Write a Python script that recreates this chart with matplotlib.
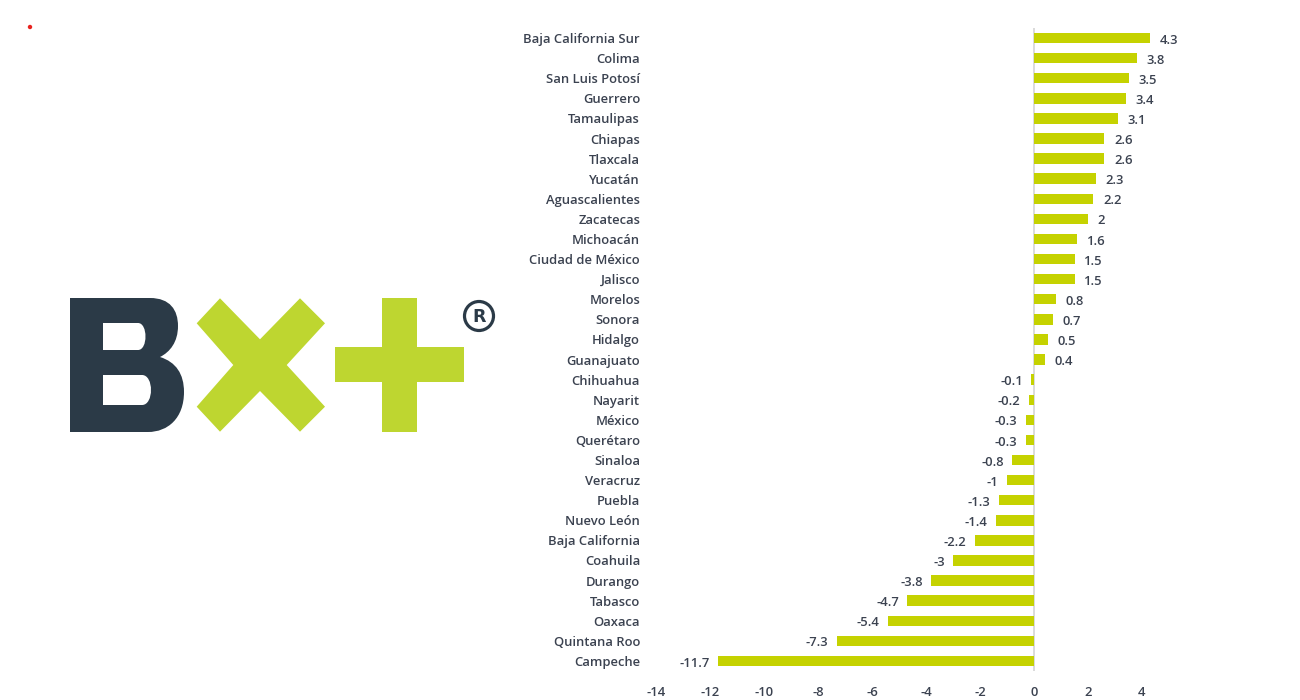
import matplotlib
matplotlib.use("Agg")
import matplotlib.pyplot as plt
from matplotlib.path import Path
from matplotlib.patches import PathPatch, Polygon, Rectangle, Circle

states = ["Baja California Sur", "Colima", "San Luis Potosí", "Guerrero", "Tamaulipas",
          "Chiapas", "Tlaxcala", "Yucatán", "Aguascalientes", "Zacatecas", "Michoacán",
          "Ciudad de México", "Jalisco", "Morelos", "Sonora", "Hidalgo", "Guanajuato",
          "Chihuahua", "Nayarit", "México", "Querétaro", "Sinaloa", "Veracruz", "Puebla",
          "Nuevo León", "Baja California", "Coahuila", "Durango", "Tabasco", "Oaxaca",
          "Quintana Roo", "Campeche"]
values = [4.3, 3.8, 3.5, 3.4, 3.1, 2.6, 2.6, 2.3, 2.2, 2, 1.6, 1.5, 1.5, 0.8, 0.7, 0.5, 0.4,
          -0.1, -0.2, -0.3, -0.3, -0.8, -1, -1.3, -1.4, -2.2, -3, -3.8, -4.7, -5.4, -7.3, -11.7]
xticks = [-14, -12, -10, -8, -6, -4, -2, 0, 2, 4]

FONT = ["Open Sans", "DejaVu Sans"]
TXT = "#3b4250"
BAR = "#c5d200"
GREEN = "#bed630"
DARK = "#2b3a47"

fig = plt.figure(figsize=(13, 7), dpi=100)
fig.patch.set_facecolor("white")

# ---- logo overlay (pixel coordinates) ----
ov = fig.add_axes([0, 0, 1, 1], zorder=0)
ov.set_xlim(0, 1300)
ov.set_ylim(700, 0)
ov.axis("off")

# red dot
ov.add_patch(Circle((30, 27), 2.2, color="#e8231f", lw=0))

# B
verts = [(70, 298), (150, 298),
         (170, 298), (178, 310), (178, 326),
         (178, 342), (170, 352), (160, 357),
         (176, 362), (184, 374), (184, 392),
         (184, 418), (168, 432), (148, 432),
         (70, 432), (70, 298)]
codes = [Path.MOVETO, Path.LINETO,
         Path.CURVE4, Path.CURVE4, Path.CURVE4,
         Path.CURVE4, Path.CURVE4, Path.CURVE4,
         Path.CURVE4, Path.CURVE4, Path.CURVE4,
         Path.CURVE4, Path.CURVE4, Path.CURVE4,
         Path.LINETO, Path.CLOSEPOLY]
ov.add_patch(PathPatch(Path(verts, codes), facecolor=DARK, edgecolor="none"))
h1 = [(103, 323), (138, 323), (148, 323), (148, 350), (138, 350), (103, 350), (103, 323)]
c1 = [Path.MOVETO, Path.LINETO, Path.CURVE4, Path.CURVE4, Path.CURVE4, Path.LINETO, Path.CLOSEPOLY]
ov.add_patch(PathPatch(Path(h1, c1), facecolor="white", edgecolor="none"))
h2 = [(103, 375), (142, 375), (154, 375), (154, 405), (142, 405), (103, 405), (103, 375)]
ov.add_patch(PathPatch(Path(h2, c1), facecolor="white", edgecolor="none"))

# X
xpts = [(196.7, 323.3), (220, 298.3), (260, 339.3), (300, 298.3), (325, 323.3),
        (286.7, 365), (325, 406.7), (300, 431.7), (260, 391), (220, 431.7),
        (196.7, 406.7), (233.3, 365)]
ov.add_patch(Polygon(xpts, closed=True, facecolor=GREEN, edgecolor="none"))

# +
ov.add_patch(Rectangle((382, 298), 35, 134, facecolor=GREEN, edgecolor="none"))
ov.add_patch(Rectangle((335, 347), 129, 35, facecolor=GREEN, edgecolor="none"))

# (R)
ov.add_patch(Circle((479, 316), 14.5, facecolor="none", edgecolor=DARK, lw=2.3))
ov.text(479.5, 316.5, "R", ha="center", va="center", fontsize=12.5, fontweight="bold",
        color=DARK, family=["DejaVu Sans"])

# ---- chart ----
unit = 27.0
left_px, right_px = 1034 - 14 * unit, 1034 + 5 * unit
top_px, bot_px = 28, 671
ax = fig.add_axes([left_px / 1300, 1 - bot_px / 700,
                   (right_px - left_px) / 1300, (bot_px - top_px) / 700], zorder=1)
ax.patch.set_alpha(0)

ypos = list(range(len(states)))
ax.barh(ypos, values, height=0.52, color=BAR, zorder=2)
ax.axvline(0, color="#d4d4d4", lw=1.2, zorder=1)

ax.set_xlim(-14, 5)
ax.set_ylim(len(states) - 0.5, -0.5)
ax.set_yticks(ypos)
ax.set_yticklabels(states)
ax.set_xticks(xticks)
ax.set_xticklabels([str(t) for t in xticks])
ax.tick_params(axis="y", length=0, pad=11.5, labelsize=9.4, labelcolor=TXT)
ax.tick_params(axis="x", length=0, pad=11, labelsize=9.4, labelcolor=TXT)
for lab in ax.get_yticklabels() + ax.get_xticklabels():
    lab.set_family(FONT)
    lab.set_fontweight("semibold")
for s in ax.spines.values():
    s.set_visible(False)

for y, v in zip(ypos, values):
    txt = "%g" % v
    if v >= 0:
        ax.annotate(txt, (v, y), xytext=(7, -1.5), textcoords="offset points",
                    ha="left", va="center", fontsize=9.4, color=TXT,
                    family=FONT, fontweight="semibold")
    else:
        ax.annotate(txt, (v, y), xytext=(-6, -1.5), textcoords="offset points",
                    ha="right", va="center", fontsize=9.4, color=TXT,
                    family=FONT, fontweight="semibold")

fig.savefig("out.png", dpi=100, facecolor="white")
